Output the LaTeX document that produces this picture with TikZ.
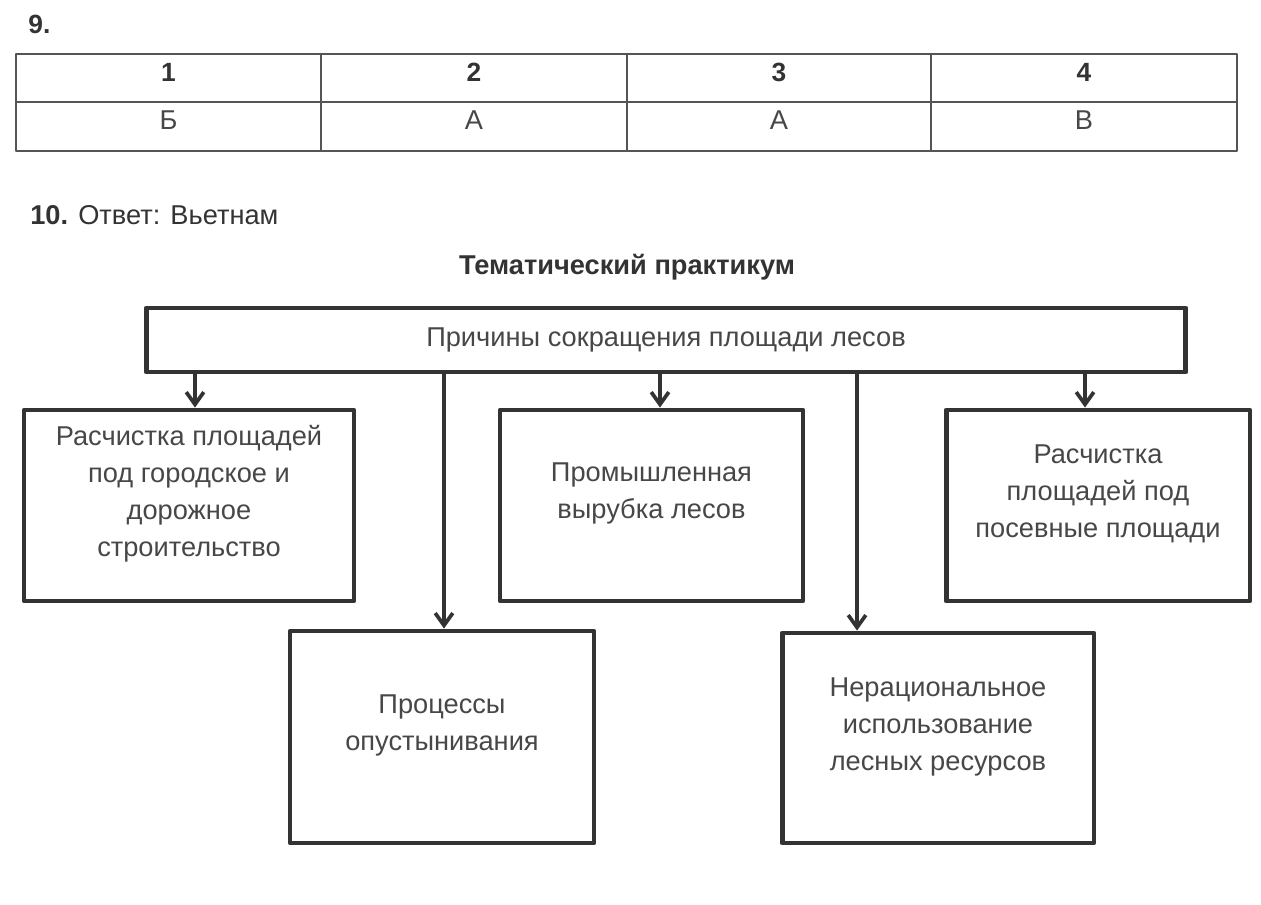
\documentclass[tikz,border=0pt]{standalone}
\usepackage{fontspec}
\setmainfont{Liberation Sans}
\usetikzlibrary{arrows.meta}
\definecolor{ink}{HTML}{333333}
\definecolor{grid}{HTML}{555555}
\begin{document}
\begin{tikzpicture}[x=0.02cm,y=-0.02cm,line join=round,
    font=\fontsize{15.5}{21}\selectfont, text=ink,
    box/.style={draw=ink,line width=2.8pt,inner sep=0pt},
    txt/.style={align=center,text=ink!90},
    arr/.style={draw=ink,line width=2.1pt,-{Straight Barb[length=7pt,width=10pt,line width=2.1pt]}}]
    \useasboundingbox (0,0) rectangle (1261,904);
    % task 9
    \node[anchor=base west,inner sep=0pt,font=\fontsize{15}{18}\bfseries] (n9) at (28,33) {9.};
    \draw[grid,line width=0.6pt] (16,54) rectangle (1237,151) (16,102) -- (1237,102);
    \foreach \x in {321,627,931} \draw[grid,line width=0.6pt] (\x,54) -- (\x,151);
    \foreach \x/\n/\a [count=\i] in {168.5/1/Б, 474/2/А, 779/3/А, 1084/4/В}{
        \node[anchor=base,font=\fontsize{15}{18}\bfseries] (h\i) at (\x,81) {\n};
        \node[anchor=base,txt] (c\i) at (\x,129) {\a};
    }
    % task 10
    \node[anchor=base west,inner sep=0pt] (n10) at (30,224) {\textbf{10.} Ответ: Вьетнам};
    \node[anchor=base,font=\fontsize{15.5}{18}\bfseries] (title) at (627,274) {Тематический практикум};
    % scheme
    \node[box,minimum width=20.8cm,minimum height=1.28cm,txt] (main) at (666,340) {Причины сокращения площади лесов};
    \node[box,minimum width=6.6cm,minimum height=3.82cm] (b1) at (189,505.5) {};
    \node[box,minimum width=6.06cm,minimum height=3.82cm] (b2) at (651.5,505.5) {};
    \node[box,minimum width=6.08cm,minimum height=3.82cm] (b3) at (1098,505.5) {};
    \node[box,minimum width=6.08cm,minimum height=4.24cm] (b4) at (442,737) {};
    \node[box,minimum width=6.24cm,minimum height=4.2cm] (b5) at (938,738) {};
    \node[txt] (t1) at ([yshift=0.24cm]b1.center) {Расчистка площадей\\под городское и\\дорожное\\строительство};
    \node[txt] (t2) at ([yshift=0.24cm]b2.center) {Промышленная\\вырубка лесов};
    \node[txt] (t3) at ([yshift=0.24cm]b3.center) {Расчистка\\площадей под\\посевные площади};
    \node[txt] (t4) at ([yshift=0.23cm]b4.center) {Процессы\\опустынивания};
    \node[txt] (t5) at ([yshift=0.22cm]b5.center) {Нерациональное\\использование\\лесных ресурсов};
    \draw[arr] ([xshift=0.12cm]b1.north |- main.south) -- ([xshift=0.12cm]b1.north);
    \draw[arr] ([xshift=0.04cm]b4.north |- main.south) -- ([xshift=0.04cm]b4.north);
    \draw[arr] ([xshift=0.17cm]b2.north |- main.south) -- ([xshift=0.17cm]b2.north);
    \draw[arr] ([xshift=-1.62cm]b5.north |- main.south) -- ([xshift=-1.62cm]b5.north);
    \draw[arr] ([xshift=-0.26cm]b3.north |- main.south) -- ([xshift=-0.26cm]b3.north);
\end{tikzpicture}
\end{document}
